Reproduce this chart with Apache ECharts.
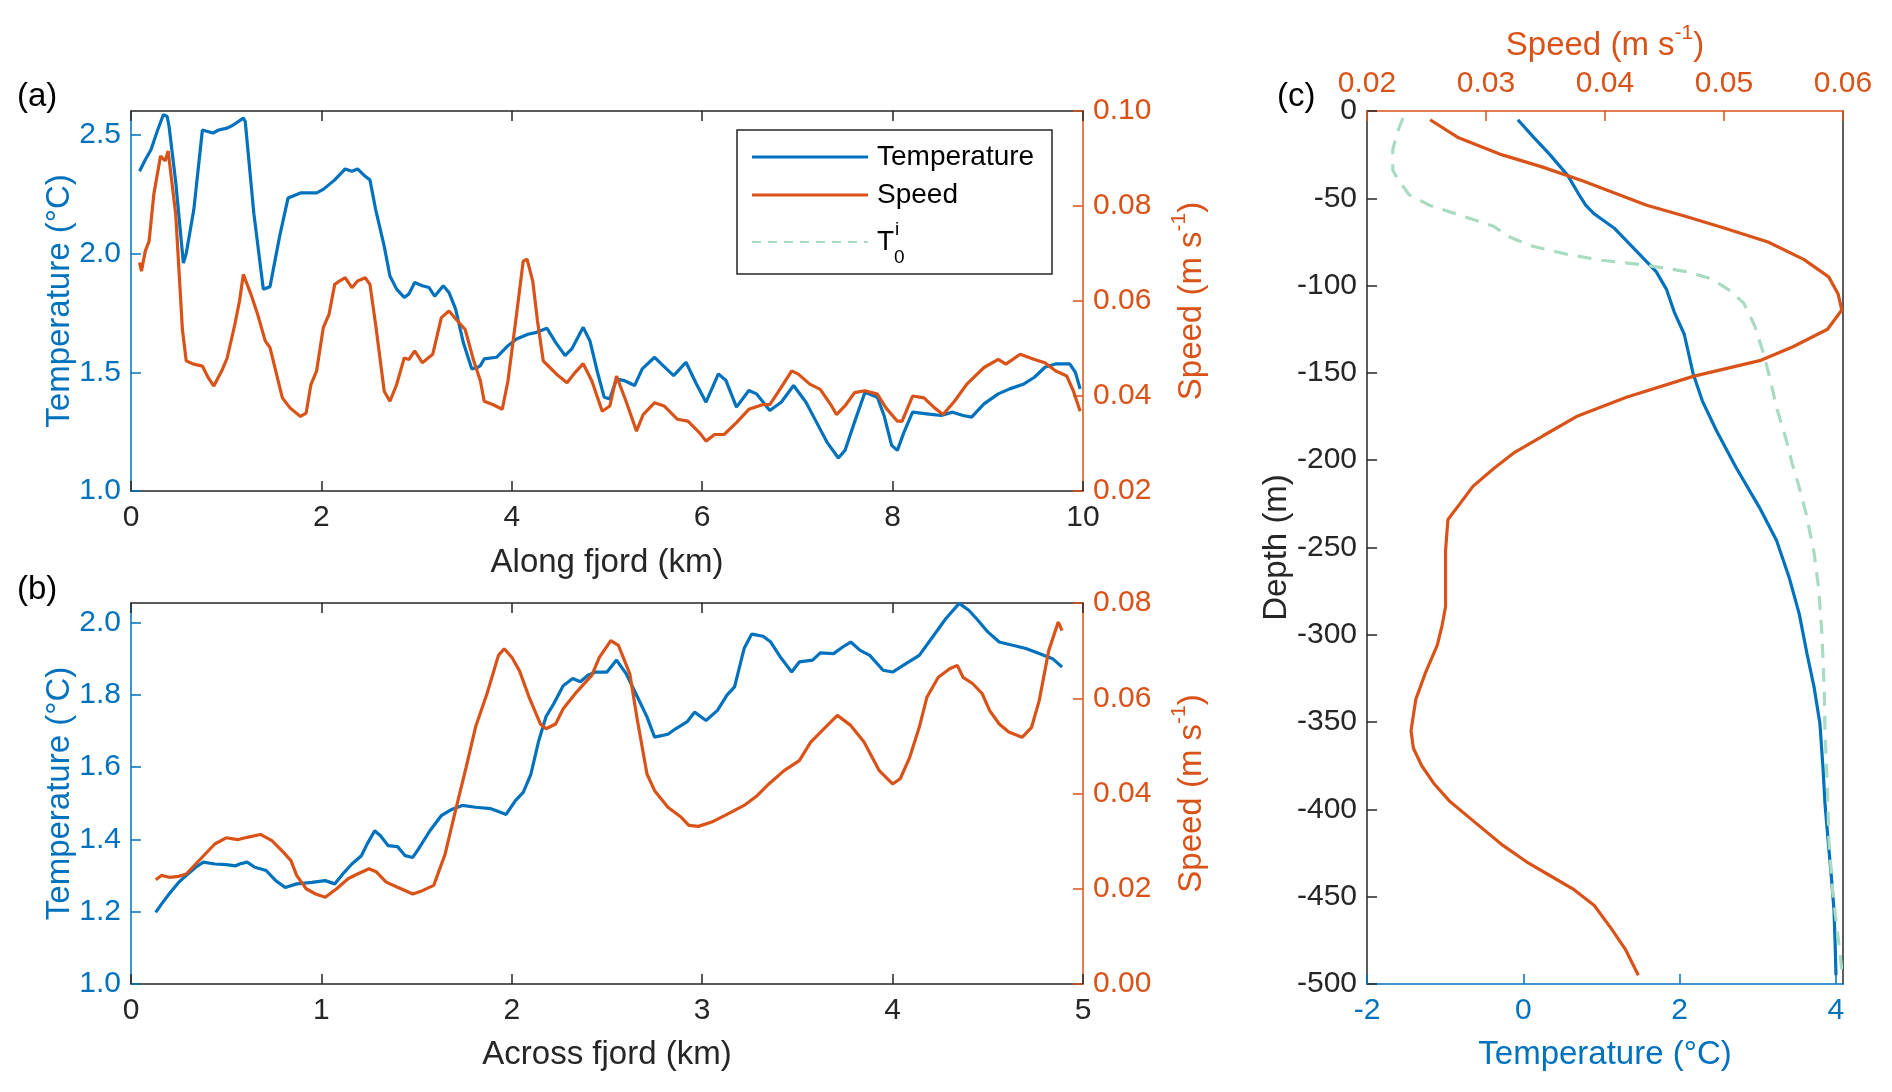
<!DOCTYPE html>
<html>
<head>
<meta charset="utf-8">
<title>Fjord temperature and speed</title>
<script src="https://cdn.jsdelivr.net/npm/echarts@6/dist/echarts.min.js"></script>
<style>
html, body { margin: 0; padding: 0; background: #fff; }
#main { width: 1892px; height: 1092px; }
</style>
</head>
<body>
<div id="main"></div>
<script>
// (a) along fjord section
var alongTempKm = [0.09,0.15,0.21,0.28,0.34,0.38,0.40,0.47,0.55,0.58,0.66,0.75,0.86,0.92,1.01,1.07,1.18,1.20,1.29,1.39,1.46,1.56,1.65,1.78,1.95,2.02,2.14,2.25,2.32,2.38,2.46,2.51,2.57,2.66,2.72,2.79,2.87,2.92,2.98,3.06,3.13,3.19,3.28,3.34,3.41,3.49,3.58,3.64,3.67,3.71,3.84,3.96,4.05,4.17,4.26,4.37,4.46,4.56,4.63,4.75,4.82,4.90,4.97,5.03,5.10,5.18,5.29,5.37,5.50,5.57,5.70,5.83,5.93,6.04,6.17,6.25,6.36,6.49,6.57,6.71,6.83,6.96,7.09,7.20,7.31,7.43,7.50,7.60,7.71,7.84,7.91,7.99,8.05,8.12,8.21,8.36,8.51,8.63,8.74,8.83,8.96,9.11,9.23,9.38,9.49,9.60,9.71,9.86,9.92,9.97];
var alongTemp = [2.346,2.395,2.437,2.52,2.584,2.577,2.535,2.30,1.96,2.0,2.185,2.52,2.507,2.52,2.528,2.54,2.57,2.556,2.17,1.85,1.86,2.07,2.234,2.255,2.255,2.27,2.31,2.356,2.346,2.356,2.325,2.31,2.185,2.03,1.905,1.85,1.815,1.83,1.878,1.864,1.857,1.82,1.864,1.836,1.766,1.626,1.514,1.52,1.528,1.556,1.563,1.612,1.64,1.66,1.668,1.685,1.626,1.57,1.598,1.689,1.633,1.50,1.395,1.388,1.472,1.465,1.444,1.514,1.563,1.535,1.486,1.542,1.458,1.374,1.493,1.465,1.353,1.423,1.409,1.339,1.374,1.444,1.374,1.29,1.206,1.139,1.171,1.29,1.416,1.395,1.318,1.192,1.171,1.248,1.332,1.325,1.318,1.332,1.318,1.311,1.367,1.409,1.43,1.451,1.479,1.521,1.535,1.535,1.50,1.43];
var alongSpeedKm = [0.09,0.11,0.15,0.19,0.24,0.31,0.36,0.39,0.47,0.54,0.58,0.66,0.75,0.81,0.87,0.96,1.01,1.09,1.14,1.18,1.26,1.33,1.41,1.46,1.59,1.67,1.78,1.84,1.89,1.95,2.02,2.08,2.14,2.19,2.25,2.32,2.38,2.46,2.51,2.57,2.66,2.72,2.79,2.87,2.92,2.98,3.06,3.17,3.26,3.34,3.43,3.51,3.60,3.67,3.71,3.80,3.90,3.96,4.05,4.12,4.16,4.22,4.27,4.33,4.40,4.47,4.58,4.65,4.75,4.84,4.95,5.03,5.10,5.20,5.31,5.38,5.50,5.60,5.74,5.85,5.97,6.04,6.13,6.23,6.36,6.49,6.64,6.71,6.83,6.94,7.01,7.13,7.24,7.35,7.41,7.50,7.60,7.71,7.84,7.93,8.05,8.10,8.21,8.33,8.44,8.53,8.65,8.78,8.96,9.11,9.19,9.34,9.49,9.60,9.71,9.83,9.90,9.97];
var alongSpeed = [0.0681,0.0663,0.0705,0.0726,0.0825,0.0905,0.0895,0.0916,0.0782,0.054,0.0474,0.0467,0.0463,0.0439,0.0421,0.0456,0.048,0.055,0.060,0.0656,0.0614,0.0572,0.0516,0.0502,0.0396,0.0375,0.0357,0.0364,0.0424,0.0453,0.0544,0.0572,0.0635,0.0642,0.0649,0.0628,0.0642,0.0649,0.0635,0.055,0.041,0.0389,0.0424,0.048,0.0477,0.0495,0.047,0.0488,0.0565,0.0579,0.0558,0.054,0.0474,0.0432,0.0389,0.0382,0.0372,0.0432,0.0572,0.0684,0.0688,0.0642,0.0558,0.0474,0.046,0.0446,0.0428,0.0446,0.0468,0.0432,0.0368,0.0379,0.0442,0.0389,0.0326,0.0361,0.0386,0.0379,0.0351,0.0347,0.0323,0.0305,0.0319,0.0319,0.0344,0.0372,0.0382,0.0382,0.0418,0.0453,0.0446,0.0425,0.0414,0.0382,0.0361,0.0379,0.0407,0.0411,0.0404,0.0375,0.0347,0.0347,0.040,0.0396,0.0375,0.0361,0.0389,0.0425,0.046,0.0477,0.0467,0.0488,0.0477,0.047,0.0453,0.0442,0.041,0.0368];

// (b) across fjord section
var acrossTempKm = [0.13,0.16,0.20,0.25,0.29,0.34,0.38,0.44,0.50,0.55,0.57,0.61,0.65,0.71,0.76,0.81,0.87,0.95,1.02,1.07,1.12,1.16,1.21,1.24,1.28,1.31,1.35,1.40,1.44,1.48,1.51,1.57,1.63,1.68,1.74,1.81,1.89,1.94,1.97,2.02,2.06,2.10,2.14,2.18,2.22,2.27,2.32,2.36,2.40,2.44,2.50,2.55,2.60,2.66,2.71,2.75,2.82,2.86,2.92,2.96,3.02,3.08,3.13,3.17,3.22,3.26,3.32,3.36,3.41,3.47,3.51,3.58,3.62,3.69,3.74,3.78,3.83,3.88,3.95,4.00,4.07,4.14,4.21,4.28,4.35,4.40,4.44,4.50,4.56,4.63,4.70,4.77,4.84,4.89];
var acrossTemp = [1.198,1.221,1.249,1.281,1.30,1.323,1.337,1.332,1.33,1.327,1.332,1.337,1.323,1.314,1.286,1.267,1.277,1.281,1.286,1.277,1.309,1.332,1.355,1.387,1.424,1.41,1.383,1.38,1.355,1.35,1.374,1.424,1.466,1.482,1.494,1.489,1.485,1.475,1.469,1.508,1.53,1.58,1.67,1.74,1.775,1.825,1.845,1.836,1.854,1.863,1.863,1.896,1.859,1.794,1.739,1.683,1.691,1.706,1.725,1.752,1.729,1.757,1.799,1.822,1.928,1.968,1.962,1.946,1.905,1.863,1.891,1.896,1.916,1.914,1.933,1.946,1.923,1.909,1.868,1.863,1.886,1.909,1.96,2.011,2.053,2.034,2.011,1.974,1.946,1.937,1.928,1.914,1.90,1.877];
var acrossSpeedKm = [0.13,0.16,0.20,0.25,0.29,0.34,0.39,0.44,0.50,0.56,0.61,0.68,0.74,0.80,0.84,0.87,0.92,0.97,1.02,1.08,1.14,1.19,1.25,1.29,1.34,1.40,1.48,1.53,1.59,1.65,1.70,1.76,1.81,1.87,1.93,1.96,2.00,2.04,2.09,2.15,2.18,2.23,2.27,2.34,2.42,2.46,2.52,2.56,2.62,2.66,2.71,2.75,2.82,2.89,2.93,2.98,3.05,3.12,3.22,3.29,3.35,3.43,3.51,3.57,3.64,3.71,3.78,3.85,3.93,4.00,4.04,4.09,4.14,4.18,4.24,4.30,4.34,4.37,4.42,4.47,4.51,4.56,4.61,4.68,4.73,4.77,4.82,4.87,4.89];
var acrossSpeed = [0.0219,0.0228,0.0224,0.0226,0.0231,0.0252,0.0273,0.0294,0.0307,0.0303,0.0308,0.0314,0.0301,0.0277,0.0259,0.0228,0.020,0.0189,0.0182,0.020,0.0221,0.0231,0.0242,0.0235,0.0214,0.0203,0.0189,0.0196,0.0207,0.0273,0.0357,0.0455,0.054,0.061,0.069,0.0704,0.0686,0.0658,0.0603,0.0546,0.0536,0.0546,0.0578,0.0613,0.0648,0.0686,0.0721,0.0711,0.0651,0.0553,0.0441,0.0406,0.0371,0.035,0.0333,0.0331,0.034,0.0354,0.0375,0.0396,0.042,0.0448,0.0469,0.0508,0.0536,0.0564,0.0543,0.0508,0.0448,0.042,0.0431,0.0476,0.0539,0.0602,0.0644,0.0662,0.0669,0.0644,0.0631,0.061,0.0574,0.0546,0.0529,0.0518,0.0539,0.0595,0.070,0.076,0.0742];

// (c) vertical profiles
var profTempDepth = [-5,-15,-25,-37,-47,-54,-59,-67,-79,-92,-102,-115,-128,-150,-166,-183,-204,-227,-246,-267,-288,-311,-330,-351,-377,-397,-418,-438,-458,-478,-495];
var profTemp = [-0.07,0.13,0.34,0.57,0.70,0.80,0.91,1.16,1.42,1.70,1.83,1.93,2.06,2.17,2.29,2.47,2.72,3.02,3.24,3.40,3.53,3.63,3.72,3.795,3.835,3.86,3.90,3.94,3.975,3.99,4.0];
var profT0Depth = [-4,-12,-22,-34,-40,-48,-54,-60,-66,-72,-77,-82,-85.5,-88,-92,-96,-103,-110,-123,-137,-152,-170,-186,-202,-214,-231,-253,-274,-299,-331,-357,-387,-418,-448,-478,-494];
var profT0 = [-1.54,-1.61,-1.67,-1.67,-1.59,-1.46,-1.20,-0.79,-0.38,-0.18,0.08,0.55,1.0,1.52,2.09,2.40,2.65,2.82,2.96,3.06,3.15,3.24,3.35,3.44,3.52,3.62,3.72,3.78,3.82,3.85,3.86,3.89,3.91,3.96,4.04,4.08];
var profSpeedDepth = [-5,-15,-25,-32,-40,-47,-54,-60,-67,-75,-85,-95,-105,-114,-125,-135,-143,-152,-164,-175,-186,-196,-205,-215,-225,-234,-252,-284,-295,-306,-322,-337,-355,-365,-375,-385,-395,-407,-420,-430,-438,-446,-455,-468,-480,-495];
var profSpeed = [0.0253,0.0276,0.0313,0.0347,0.0381,0.0408,0.0435,0.0466,0.0500,0.0537,0.0567,0.0588,0.0596,0.0599,0.0587,0.0558,0.0530,0.0474,0.0418,0.0376,0.0348,0.0323,0.0306,0.0289,0.0278,0.0268,0.0266,0.0266,0.0263,0.0259,0.0249,0.0241,0.0237,0.0239,0.0246,0.0256,0.0269,0.0290,0.0313,0.0334,0.0354,0.0374,0.0391,0.0405,0.0417,0.0428];

// tick labels
var alongTempTicks = [1.0, 1.5, 2.0, 2.5];
var alongSpeedTicks = [0.02, 0.04, 0.06, 0.08, 0.10];
var acrossTempTicks = [1.0, 1.2, 1.4, 1.6, 1.8, 2.0];
var acrossSpeedTicks = [0, 0.02, 0.04, 0.06, 0.08];
var profTempTicks = [-2, 0, 2, 4];
var profSpeedTicks = [0.02, 0.03, 0.04, 0.05, 0.06];

var BLUE = '#0072BD';
var ORANGE = '#D95319';
var GREEN = '#a9dbc2';
var INK = '#262626';
var FONT = '"Liberation Sans", Arial, Helvetica, sans-serif';

function pairs(xs, ys) {
    var out = [];
    for (var i = 0; i < xs.length; i++) out.push([xs[i], ys[i]]);
    return out;
}

function axis(o) {
    var color = o.color || INK;
    var a = {
        gridIndex: o.grid,
        type: 'value',
        position: o.pos,
        min: o.min,
        max: o.max,
        interval: o.interval,
        axisLine: { show: true, onZero: false, lineStyle: { color: color, width: 1.5 } },
        axisTick: { show: o.ticks !== false, inside: true, length: 10, lineStyle: { color: color, width: 1.5 } },
        axisLabel: { show: o.labels !== false, color: color, fontSize: 30, fontFamily: FONT, margin: o.margin || 10 },
        splitLine: { show: false }
    };
    if (o.custom) {
        a.axisTick.customValues = o.custom;
        a.axisLabel.customValues = o.custom;
    }
    if (o.digits !== undefined) {
        a.axisLabel.formatter = function(v) { return v.toFixed(o.digits); };
    }
    if (o.name) {
        a.name = o.name;
        a.nameLocation = 'middle';
        a.nameGap = o.gap;
        a.nameMoveOverlap = false;
        if (o.rotate) a.nameRotate = o.rotate;
        a.nameTextStyle = {
            color: color, fontSize: 33, fontFamily: FONT,
            rich: { sup: { fontSize: 21, color: color, fontFamily: FONT, padding: [0, 0, 24, 0] } }
        };
    }
    return a;
}

function line(name, xi, yi, data, color, dash) {
    var s = {
        name: name, type: 'line', xAxisIndex: xi, yAxisIndex: yi, data: data,
        showSymbol: false, silent: true,
        lineStyle: { color: color, width: 3.2 }, itemStyle: { color: color }
    };
    if (dash) s.lineStyle.type = dash;
    return s;
}

var myChart = echarts.init(document.getElementById('main'));

var option = {
    animation: false,
    backgroundColor: '#fff',
    grid: [
        { left: 131, top: 111, width: 952, height: 380 },
        { left: 131, top: 603, width: 952, height: 381 },
        { left: 1367, top: 111, width: 476, height: 873 }
    ],
    xAxis: [
        axis({ grid: 0, pos: 'bottom', min: 0, max: 10, interval: 2, name: 'Along fjord (km)', gap: 55, margin: 12 }),
        axis({ grid: 0, pos: 'top', min: 0, max: 10, interval: 2, labels: false }),
        axis({ grid: 1, pos: 'bottom', min: 0, max: 5, interval: 1, name: 'Across fjord (km)', gap: 54, margin: 12 }),
        axis({ grid: 1, pos: 'top', min: 0, max: 5, interval: 1, labels: false }),
        axis({ grid: 2, pos: 'bottom', min: -2, max: 4.09, interval: 2, custom: profTempTicks, color: BLUE, name: 'Temperature (°C)', gap: 54, margin: 12 }),
        axis({ grid: 2, pos: 'top', min: 0.02, max: 0.06, interval: 0.01, custom: profSpeedTicks, digits: 2, color: ORANGE, name: 'Speed (m s{sup|-1})', gap: 43, margin: 12 })
    ],
    yAxis: [
        axis({ grid: 0, pos: 'left', min: 1.0, max: 2.6, interval: 0.5, custom: alongTempTicks, digits: 1, color: BLUE, name: 'Temperature (°C)', gap: 55, rotate: 90 }),
        axis({ grid: 0, pos: 'right', min: 0.02, max: 0.10, interval: 0.02, custom: alongSpeedTicks, digits: 2, color: ORANGE, name: 'Speed (m s{sup|-1})', gap: 86, rotate: 90 }),
        axis({ grid: 1, pos: 'left', min: 1.0, max: 2.054, interval: 0.2, custom: acrossTempTicks, digits: 1, color: BLUE, name: 'Temperature (°C)', gap: 55, rotate: 90 }),
        axis({ grid: 1, pos: 'right', min: 0, max: 0.08, interval: 0.02, custom: acrossSpeedTicks, digits: 2, color: ORANGE, name: 'Speed (m s{sup|-1})', gap: 86, rotate: 90 }),
        axis({ grid: 2, pos: 'left', min: -500, max: 0, interval: 50, name: 'Depth (m)', gap: 74, rotate: 90 }),
        axis({ grid: 2, pos: 'right', min: -500, max: 0, interval: 50, labels: false, ticks: false })
    ],
    series: [
        line('Temperature', 0, 0, pairs(alongTempKm, alongTemp), BLUE),
        line('Speed', 0, 1, pairs(alongSpeedKm, alongSpeed), ORANGE),
        line('Temperature', 2, 2, pairs(acrossTempKm, acrossTemp), BLUE),
        line('Speed', 2, 3, pairs(acrossSpeedKm, acrossSpeed), ORANGE),
        line('Temperature', 4, 4, pairs(profTemp, profTempDepth), BLUE),
        line('T0i', 4, 4, pairs(profT0, profT0Depth), GREEN, [14, 10]),
        line('Speed', 5, 4, pairs(profSpeed, profSpeedDepth), ORANGE)
    ],
    graphic: [
        // panel letters
        { type: 'text', x: 17, y: 97, style: { text: '(a)', fontSize: 33, fontFamily: FONT, fill: '#000', verticalAlign: 'middle' } },
        { type: 'text', x: 17, y: 590, style: { text: '(b)', fontSize: 33, fontFamily: FONT, fill: '#000', verticalAlign: 'middle' } },
        { type: 'text', x: 1277, y: 97, style: { text: '(c)', fontSize: 33, fontFamily: FONT, fill: '#000', verticalAlign: 'middle' } },
        // legend
        { type: 'rect', z: 100, shape: { x: 737, y: 130, width: 315, height: 144 }, style: { fill: '#fff', stroke: INK, lineWidth: 1.5 } },
        { type: 'line', z: 101, shape: { x1: 752, y1: 157, x2: 868, y2: 157 }, style: { stroke: BLUE, lineWidth: 3.2 } },
        { type: 'line', z: 101, shape: { x1: 752, y1: 195, x2: 868, y2: 195 }, style: { stroke: ORANGE, lineWidth: 3.2 } },
        { type: 'line', z: 101, shape: { x1: 752, y1: 242, x2: 868, y2: 242 }, style: { stroke: GREEN, lineWidth: 2, lineDash: [9, 7] } },
        { type: 'text', z: 101, x: 877, y: 157, style: { text: 'Temperature', fontSize: 28, fontFamily: FONT, fill: '#000', verticalAlign: 'middle' } },
        { type: 'text', z: 101, x: 877, y: 195, style: { text: 'Speed', fontSize: 28, fontFamily: FONT, fill: '#000', verticalAlign: 'middle' } },
        { type: 'text', z: 101, x: 877, y: 242, style: { text: 'T', fontSize: 28, fontFamily: FONT, fill: '#000', verticalAlign: 'middle' } },
        { type: 'text', z: 101, x: 895, y: 230, style: { text: 'i', fontSize: 19, fontFamily: FONT, fill: '#000', verticalAlign: 'middle' } },
        { type: 'text', z: 101, x: 894, y: 258, style: { text: '0', fontSize: 19, fontFamily: FONT, fill: '#000', verticalAlign: 'middle' } }
    ]
};

myChart.setOption(option);
</script>
</body>
</html>
